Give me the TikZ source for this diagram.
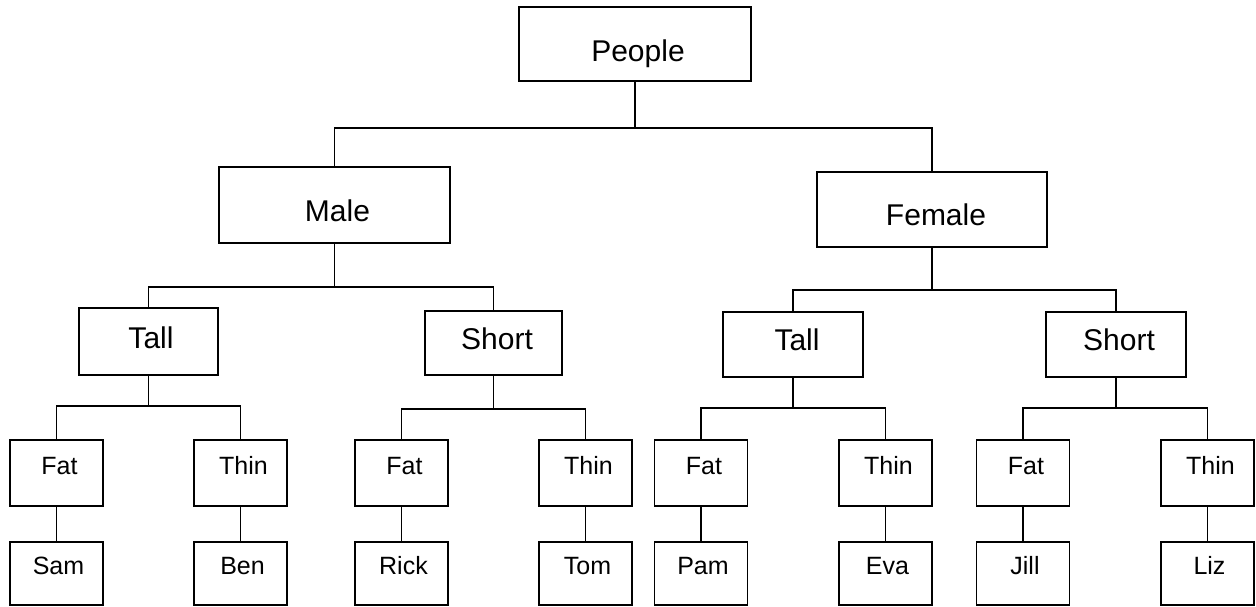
\documentclass[tikz,border=0pt]{standalone}
\usepackage{fontspec}
\setmainfont{Liberation Sans}
\begin{document}
\begin{tikzpicture}[x=1pt,y=-1pt,
  box/.style={draw=black,line width=1.4pt,inner sep=0pt,outer sep=0pt},
  conn/.style={draw=black,line width=1.4pt},
  big/.style={anchor=base,inner sep=0pt,font=\fontsize{30}{36}\selectfont},
  small/.style={anchor=base,inner sep=0pt,font=\fontsize{25}{30}\selectfont}]
\useasboundingbox (0,0) rectangle (1256,607);
% level 0
\node[box,minimum width=232,minimum height=74] (people) at (635,44) {};
% level 1
\node[box,minimum width=231,minimum height=76] (male) at (334.5,205) {};
\node[box,minimum width=230,minimum height=75] (female) at (932,209.5) {};
% level 2
\node[box,minimum width=139,minimum height=67] (tallm) at (148.5,341.5) {};
\node[box,minimum width=137,minimum height=64] (shortm) at (493.5,343) {};
\node[box,minimum width=140,minimum height=65] (tallf) at (793,344.5) {};
\node[box,minimum width=140,minimum height=65] (shortf) at (1116,344.5) {};
% level 3
\foreach \n/\x in {fat1/56.5,thin1/240.5,fat2/401.5,thin2/585.5,fat3/701,thin3/885.5,fat4/1023,thin4/1207.5}
  \node[box,minimum width=93,minimum height=66] (\n) at (\x,473) {};
% level 4
\foreach \n/\x in {sam/56.5,ben/240.5,rick/401.5,tom/585.5,pam/701,eva/885.5,jill/1023,liz/1207.5}
  \node[box,minimum width=93,minimum height=63] (\n) at (\x,573.5) {};
% texts
\node[big] (tpeople) at (638,62) {People};
\node[big] (tmale) at (337.5,221) {Male};
\node[big] (tfemale) at (936,225) {Female};
\node[big] (ttallm) at (151,348) {Tall};
\node[big] (tshortm) at (497,349) {Short};
\node[big] (ttallf) at (797,350) {Tall};
\node[big] (tshortf) at (1119,350) {Short};
\foreach \n/\t in {fat1/Fat,thin1/Thin,fat2/Fat,thin2/Thin,fat3/Fat,thin3/Thin,fat4/Fat,thin4/Thin}
  \node[small] (t\n) at ([xshift=3pt,yshift=-1pt]\n.center) {\t};
\foreach \n/\t in {sam/Sam,ben/Ben,rick/Rick,tom/Tom,pam/Pam,eva/Eva,jill/Jill,liz/Liz}
  \node[small] (t\n) at ([xshift=2pt,yshift=-0.5pt]\n.center) {\t};
% connectors
\coordinate (j0) at (635,128);
\coordinate (j1) at (334.5,287);
\coordinate (j2) at (932,290);
\coordinate (j3) at (148.5,406);
\coordinate (j4) at (493.5,409);
\coordinate (j5) at (793,408);
\coordinate (j6) at (1116,408);
\draw[conn] (people.south) -- (j0);
\draw[conn] (male.north) -- (male.north |- j0) -- (female.north |- j0) -- (female.north);
\draw[conn] (male.south) -- (j1);
\draw[conn] (tallm.north) -- (tallm.north |- j1) -- (shortm.north |- j1) -- (shortm.north);
\draw[conn] (female.south) -- (j2);
\draw[conn] (tallf.north) -- (tallf.north |- j2) -- (shortf.north |- j2) -- (shortf.north);
\draw[conn] (tallm.south) -- (j3);
\draw[conn] (fat1.north) -- (fat1.north |- j3) -- (thin1.north |- j3) -- (thin1.north);
\draw[conn] (shortm.south) -- (j4);
\draw[conn] (fat2.north) -- (fat2.north |- j4) -- (thin2.north |- j4) -- (thin2.north);
\draw[conn] (tallf.south) -- (j5);
\draw[conn] (fat3.north) -- (fat3.north |- j5) -- (thin3.north |- j5) -- (thin3.north);
\draw[conn] (shortf.south) -- (j6);
\draw[conn] (fat4.north) -- (fat4.north |- j6) -- (thin4.north |- j6) -- (thin4.north);
\foreach \a/\b in {fat1/sam,thin1/ben,fat2/rick,thin2/tom,fat3/pam,thin3/eva,fat4/jill,thin4/liz}
  \draw[conn] (\a.south) -- (\b.north);
\end{tikzpicture}
\end{document}
